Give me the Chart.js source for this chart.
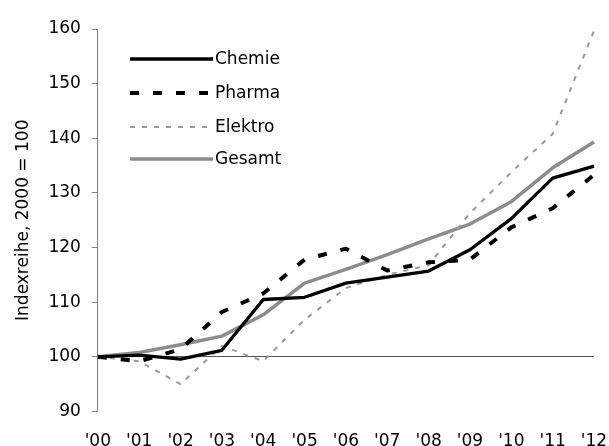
<!DOCTYPE html>
<html>
<head>
<meta charset="utf-8">
<script src="https://cdn.jsdelivr.net/npm/chart.js@4"></script>
<style>
  html, body { margin: 0; padding: 0; background: #fff; }
  #wrap { width: 609px; height: 446px; }
</style>
</head>
<body>
<div id="wrap"><canvas id="chart"></canvas></div>
<script>
// data
const years = ["'00", "'01", "'02", "'03", "'04", "'05", "'06", "'07", "'08", "'09", "'10", "'11", "'12"];
const chemie  = [100, 100.3, 99.6, 101.2, 110.5, 110.9, 113.5, 114.6, 115.7, 119.6, 125.3, 132.7, 134.9];
const pharma  = [100, 99.2, 101.4, 108.2, 111.6, 117.8, 119.8, 115.8, 117.3, 117.8, 123.7, 127.2, 133.3];
const elektro = [100, 99.2, 95.0, 102.0, 99.2, 106.8, 112.6, 115.0, 116.8, 126.3, 133.8, 140.8, 159.7];
const gesamt  = [100, 100.8, 102.2, 103.8, 107.7, 113.5, 116.0, 118.7, 121.6, 124.3, 128.4, 134.6, 139.3];
const yMin = 90, yMax = 160, yStep = 10;

const font = "'DejaVu Sans', sans-serif";

// legend drawn by hand: long line sample then the label
const lineLegend = {
    id: 'lineLegend',
    afterDraw(chart) {
        const ctx = chart.ctx;
        const rowY = [59, 93, 127, 159];
        ctx.save();
        chart.data.datasets.forEach(function (ds, i) {
            const y = rowY[i];
            ctx.beginPath();
            ctx.strokeStyle = ds.borderColor;
            ctx.lineWidth = ds.borderWidth;
            ctx.setLineDash(ds.borderDash || []);
            ctx.moveTo(130, y);
            ctx.lineTo(213, y);
            ctx.stroke();
            ctx.setLineDash([]);
            ctx.fillStyle = '#000';
            ctx.font = '17px ' + font;
            ctx.textBaseline = 'middle';
            ctx.fillText(ds.label, 215, y + 1);
        });
        ctx.restore();
    }
};

let ctx = document.getElementById('chart');
let chart = new Chart(ctx, {
    type: 'line',
    data: {
        labels: years,
        datasets: [
            { label: 'Chemie', data: chemie, borderColor: '#000000', borderWidth: 3.3 },
            { label: 'Pharma', data: pharma, borderColor: '#000000', borderWidth: 4, borderDash: [9, 14] },
            { label: 'Elektro', data: elektro, borderColor: '#999999', borderWidth: 2, borderDash: [5, 7] },
            { label: 'Gesamt', data: gesamt, borderColor: '#8c8c8c', borderWidth: 3.5 }
        ]
    },
    options: {
        responsive: true,
        maintainAspectRatio: false,
        animation: false,
        elements: {
            point: { radius: 0 },
            line: { tension: 0, borderCapStyle: 'butt', borderJoinStyle: 'round' }
        },
        layout: { padding: { left: 10, right: 0, top: 29, bottom: 0 } },
        plugins: {
            legend: { display: false },
            tooltip: { enabled: false }
        },
        scales: {
            x: {
                offset: false,
                grid: { display: false, drawTicks: false },
                border: { display: false },
                ticks: {
                    color: '#000',
                    font: { family: font, size: 17 },
                    padding: 20,
                    maxRotation: 0,
                    autoSkip: false
                },
                afterFit(scale) {
                    // labels sit low, partly below the canvas edge
                    scale.height = 34.5;
                    scale.paddingRight = 15;
                }
            },
            y: {
                min: yMin,
                max: yMax,
                border: { display: true, color: '#808080', width: 1 },
                grid: {
                    drawOnChartArea: true,
                    color: c => (c.tick && c.tick.value === 100) ? '#555555' : 'rgba(0,0,0,0)',
                    tickColor: '#808080',
                    tickLength: 6
                },
                ticks: {
                    stepSize: yStep,
                    color: '#000',
                    font: { family: font, size: 17 },
                    padding: 11
                },
                title: {
                    display: true,
                    text: 'Indexreihe, 2000 = 100',
                    color: '#000',
                    font: { family: font, size: 17 },
                    padding: { top: 3, bottom: 4 }
                }
            }
        }
    },
    plugins: [lineLegend]
});
</script>
</body>
</html>
